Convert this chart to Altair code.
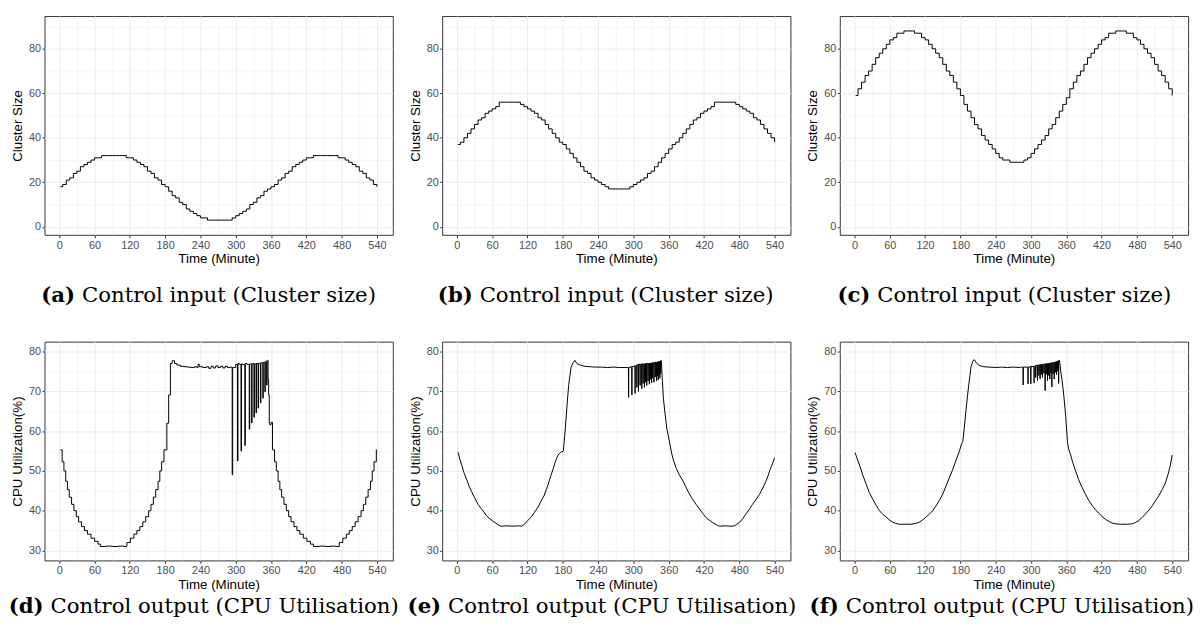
import altair as alt
import pandas as pd

# ---------------- data ----------------
minutes_top = [2] + list(range(6, 541, 6))

cluster_a = [18, 19, 21, 22, 24, 25, 27, 28, 29, 30,
             31, 31, 32, 32, 32, 32, 32, 32, 32, 31,
             31, 30, 29, 28, 27, 25, 24, 22, 21, 19,
             18, 16, 14, 13, 11, 10, 8, 7, 6, 5,
             4, 4, 3, 3, 3, 3, 3, 3, 3, 4,
             5, 6, 7, 8, 10, 11, 13, 14, 16, 17,
             18, 19, 21, 22, 24, 25, 27, 28, 29, 30,
             31, 31, 32, 32, 32, 32, 32, 32, 32, 31,
             31, 30, 29, 28, 27, 25, 24, 22, 21, 19,
             18]
cluster_b = [37, 38, 40, 42, 44, 46, 48, 49, 51, 52,
             53, 54, 56, 56, 56, 56, 56, 56, 55, 54,
             53, 52, 51, 49, 48, 46, 44, 42, 40, 38,
             37, 35, 33, 31, 29, 27, 25, 24, 22, 21,
             20, 19, 18, 17, 17, 17, 17, 17, 17, 18,
             19, 20, 21, 22, 24, 25, 27, 29, 31, 33,
             35, 37, 38, 40, 42, 44, 46, 48, 49, 51,
             52, 53, 54, 56, 56, 56, 56, 56, 56, 55,
             54, 53, 52, 51, 49, 48, 46, 44, 42, 40,
             38]
cluster_c = [59, 62, 65, 68, 70, 73, 76, 78, 80, 82,
             84, 85, 87, 87, 88, 88, 88, 87, 87, 85,
             84, 82, 80, 78, 76, 73, 70, 68, 65, 62,
             59, 55, 52, 49, 46, 44, 41, 39, 37, 35,
             33, 31, 30, 30, 29, 29, 29, 29, 30, 31,
             33, 35, 37, 39, 41, 44, 46, 49, 52, 55,
             58, 62, 65, 68, 70, 73, 76, 78, 80, 82,
             84, 85, 87, 87, 88, 88, 88, 87, 87, 85,
             84, 82, 80, 78, 76, 73, 70, 68, 65, 62,
             59]

# Panel (d)
d_t = [2, 5, 8, 11, 14, 17, 21, 25, 29, 33, 38, 43, 48, 54, 60, 66, 70, 80, 90, 100, 110,
       115, 121, 127, 132, 137, 142, 147, 152, 156, 160, 164, 168, 171, 174, 178,
       183, 186, 189, 192, 196, 200, 206, 212, 218, 224, 230, 234, 236, 238, 244, 250, 254, 258,
       262, 266, 270, 274, 278, 282, 286, 290,
       296, 300, 306, 312, 319, 325, 329, 336, 340, 344, 348, 351, 354,
       355, 356, 357, 358, 360, 362.5, 366, 369, 372, 375, 378, 382, 386, 390, 394, 399, 404,
       409, 415, 421, 427, 432, 442, 452, 462, 470,
       476, 482, 488, 493, 498, 503, 508, 513, 517, 521, 525, 529, 532, 535, 539, 540]
d_v = [55.3, 52.3, 50.0, 47.4, 45.3, 43.4, 41.6, 40.0, 38.5, 37.2, 36.0, 35.0, 34.1, 33.1, 32.3,
       31.6, 31.0, 31.1, 31.0, 31.1, 31.0,
       32.0, 33.1, 34.1, 35.0, 36.0, 37.2, 38.5, 40.0, 41.6, 43.4, 45.3, 47.4, 50.0, 52.3, 55.3,
       62.0, 69.1, 77.0, 77.7, 77.0, 76.6, 76.3, 76.2, 76.1, 76.0, 76.2, 76.0, 76.8, 76.2, 76.0,
       76.2, 75.8, 76.3, 75.9, 76.4, 76.0, 76.3, 75.9, 76.3, 76.0, 76.1,
       76.0, 76.8, 76.8, 76.7, 76.8, 76.9, 77.0, 77.0, 77.1, 77.2, 77.3, 77.5, 77.8,
       73.0, 69.1, 62.0, 61.6, 62.2, 55.3, 52.3, 50.0, 47.4, 45.3, 43.4, 41.6, 40.0, 38.5, 37.2,
       36.0, 35.0, 34.1, 33.1, 32.3, 31.6, 31.0, 31.1, 31.0, 31.1, 31.0,
       32.0, 33.1, 34.1, 35.0, 36.0, 37.2, 38.5, 40.0, 41.6, 43.4, 45.3, 47.4, 50.0, 52.3, 55.3, 55.3]
d_spike_t = [294, 303, 309, 315.5, 323, 327, 331, 334.5, 338, 342, 346, 349.5, 352.5]
d_spike_low = [49.0, 52.5, 55.0, 56.4, 60.5, 62.1, 63.5, 64.6, 65.8, 67.1, 68.3, 69.9, 71.6]
d_spike_top = [76.0, 77.0, 76.9, 77.0, 76.9, 77.0, 76.9, 77.1, 77.0, 77.2, 77.3, 77.4, 77.8]

# Panel (e)
e_t = [2, 5, 8.5, 12, 17, 21, 25, 30, 36, 41, 45, 50, 55, 60, 65, 70, 75, 85, 95, 105, 110,
       115, 121, 127, 132, 138, 143, 148, 152, 156, 160, 164, 168, 172, 176, 181,
       184, 187, 190, 194, 198, 200.5, 204, 210, 218, 226, 236, 246, 256, 266, 276, 286, 290,
       347.5, 349, 351, 354, 357, 359, 362, 365, 368, 373, 379, 385, 393, 401, 407, 413, 419,
       424, 430, 435, 441, 446, 456, 466, 472,
       476, 480, 486, 491, 497, 502, 508, 514, 520, 525, 529, 533, 537, 540]
e_v = [54.7, 53.0, 51.4, 49.6, 47.7, 46.1, 44.8, 43.3, 41.6, 40.6, 39.9, 38.8, 38.1, 37.5, 37.0,
       36.5, 36.1, 36.2, 36.1, 36.2, 36.1,
       36.6, 37.6, 38.5, 39.6, 40.9, 42.4, 43.7, 45.3, 47.0, 48.9, 50.7, 52.6, 54.0, 54.6, 55.0,
       60.0, 66.0, 71.5, 76.0, 77.3, 77.8, 77.0, 76.6, 76.3, 76.2, 76.1, 76.1, 76.0, 76.1, 76.0,
       76.0, 76.0,
       77.8, 73.5, 68.3, 64.2, 60.5, 59.2, 56.8, 54.5, 52.7, 50.6, 48.8, 47.3, 44.8, 42.8, 41.5,
       40.3, 39.1, 38.2, 37.5, 37.0, 36.5, 36.1, 36.2, 36.1, 36.2,
       36.6, 37.0, 38.0, 39.1, 40.3, 41.5, 42.7, 44.0, 45.7, 47.3, 48.8, 50.6, 52.0, 53.3]
e_spike_t = [291.9, 297.5, 303, 306, 308.7, 311.5, 314.3, 316.5, 318.8, 320.8,
             322.7, 325, 327.2, 329, 331, 333, 335, 337.3, 339.5, 341,
             342.3, 343.7, 345, 346.3]
e_spike_low = [68.5, 69.1, 69.5, 71.0, 70.0, 71.5, 70.7, 72.0, 71.0, 72.3,
               71.5, 72.6, 71.8, 73.0, 72.1, 73.3, 72.3, 73.6, 72.6, 74.0,
               72.9, 74.2, 73.3, 74.5]
e_spike_top = [76.0, 76.2, 76.4, 76.6, 76.8, 76.8, 76.9, 76.9, 76.9, 77.0,
               77.0, 77.0, 77.0, 77.1, 77.1, 77.2, 77.2, 77.3, 77.3, 77.4,
               77.4, 77.5, 77.6, 77.7]

# Panel (f)
f_t = [1, 4, 8.5, 14, 20, 25, 31, 37, 42.4, 48, 53.7, 59, 65, 70, 76, 86, 96, 104, 110, 116,
       121.5, 127, 133, 138, 144, 150, 155.5, 161, 166.8, 172, 178, 182, 184, 186.5, 189, 192,
       195, 198, 201, 203.5, 207, 212, 220, 229, 240, 250, 260, 270, 280, 284,
       348.5, 350.5, 353, 356, 359, 362, 364, 367.4, 371, 376, 381, 387, 393, 398.5, 404, 410,
       416, 421, 427, 432.5, 438, 444, 452, 462, 472, 477, 483, 489, 494.6, 500, 506, 511, 517,
       523, 528.5, 533, 537, 540]
f_v = [54.6, 53.3, 51.5, 49.0, 46.6, 44.6, 42.9, 41.3, 40.0, 39.1, 38.4, 37.7, 37.1, 36.8, 36.6,
       36.6, 36.6, 36.8, 37.1, 37.7, 38.4, 39.1, 40.0, 41.1, 42.5, 44.2, 46.2, 48.2, 50.3, 52.5,
       54.8, 56.8, 57.3, 60.6, 64.5, 68.8, 72.6, 76.1, 77.6, 78.0, 77.2, 76.5, 76.2, 76.1, 76.0,
       76.1, 76.0, 76.1, 76.0, 76.1,
       77.8, 75.1, 72.6, 68.6, 63.7, 57.2, 55.5, 54.0, 52.1, 49.9, 47.8, 45.8, 44.0, 42.5, 41.3,
       40.2, 39.3, 38.5, 37.8, 37.3, 36.9, 36.7, 36.6, 36.6, 36.7, 37.0, 37.5, 38.3, 39.2, 40.1,
       41.2, 42.4, 43.7, 45.3, 47.0, 49.2, 51.5, 54.0]
f_spike_t = [286.7, 295, 299.7, 305.3, 308, 311, 313.5, 315.5, 317.5, 319.5,
             322, 324, 326, 328, 330, 332, 334, 335.5, 337.5, 339.5,
             341.5, 343.4, 345.5, 347]
f_spike_low = [71.6, 71.9, 71.9, 72.1, 73.5, 72.7, 74.0, 73.1, 74.2, 73.5,
               74.5, 70.2, 74.3, 72.7, 74.0, 73.1, 74.6, 71.1, 74.4, 73.1,
               74.8, 74.2, 75.0, 72.0]
f_spike_top = [76.1, 76.1, 76.2, 76.3, 76.5, 76.6, 76.6, 76.7, 76.7, 76.8,
               76.8, 76.9, 76.9, 77.0, 77.0, 77.1, 77.1, 77.2, 77.2, 77.3,
               77.4, 77.5, 77.6, 77.7]

caption_tags = ["(a)", "(b)", "(c)", "(d)", "(e)", "(f)"]
caption_texts = ["Control input (Cluster size)"] * 3 + ["Control output (CPU Utilisation)"] * 3
y_titles = ["Cluster Size", "CPU Utilization(%)"]
x_title = "Time (Minute)"
x_ticks = list(range(0, 541, 30))
y_ticks_top = list(range(0, 91, 10))
y_ticks_bottom = list(range(30, 81, 5))


# ---------------- helpers ----------------
def step_spikes(t, v, st, lo, top):
    rows = list(zip(t, v))
    for s, l, h in zip(st, lo, top):
        rows += [(s, l), (s + 0.8, h)]
    return pd.DataFrame(rows, columns=["t", "v"]).sort_values("t")


def linear_spikes(t, v, st, lo, top):
    rows = list(zip(t, v))
    for s, l, h in zip(st, lo, top):
        rows += [(s - 0.3, h), (s, l), (s + 0.3, h)]
    return pd.DataFrame(rows, columns=["t", "v"]).sort_values("t")


W, H = 353, 221.7
FONT = "Liberation Sans"


def cond(test, a, b):
    return {"condition": {"test": test, "value": a}, "value": b}


def panel(df, ydom, yticks, ymod, ytitle, interp, idx, top_row):
    xtest = "datum.value % 60 === 0"
    x_axis = alt.Axis(
        values=x_ticks, title=x_title,
        labelExpr=f"{xtest} ? datum.label : ''",
        labelFontSize=cond(xtest, 11, 0),
        gridWidth=cond(xtest, 1.0, 0.5),
        tickOpacity=cond(xtest, 1, 0),
        gridColor="#ebebeb", domain=False, tickColor="#333333", tickSize=3,
        labelColor="#4d4d4d", labelFont=FONT, labelPadding=1.5,
        labelFlush=False, labelOverlap=False,
        titleFont=FONT, titleFontSize=13.5, titleFontWeight="normal", titleColor="#000000",
        titlePadding=2,
    )
    ytest = f"datum.value % {ymod} === 0"
    y_axis = alt.Axis(
        values=yticks, title=ytitle,
        labelExpr=f"{ytest} ? datum.label : ''",
        labelFontSize=cond(ytest, 11, 0),
        gridWidth=cond(ytest, 1.0, 0.5),
        tickOpacity=cond(ytest, 1, 0),
        gridColor="#ebebeb", domain=False, tickColor="#333333", tickSize=2.5,
        labelColor="#4d4d4d", labelFont=FONT, labelPadding=1.5,
        labelFlush=False, labelOverlap=False,
        titleFont=FONT, titleFontSize=13.5, titleFontWeight="normal", titleColor="#000000",
        titlePadding=4,
    )
    line = alt.Chart(df).mark_line(color="black", strokeWidth=1, interpolate=interp).encode(
        x=alt.X("t:Q", scale=alt.Scale(domain=[-25, 567], nice=False, zero=False), axis=x_axis),
        y=alt.Y("v:Q", scale=alt.Scale(domain=ydom, nice=False, zero=False), axis=y_axis),
    )
    cap = pd.DataFrame({"tag": [caption_tags[idx]], "txt": [caption_texts[idx]]})
    if top_row:
        cy, bx, tx = 284, 31, 38
    else:
        cy, bx, tx = 269, -1, 6
    bold = alt.Chart(cap).mark_text(
        font="DejaVu Serif", fontSize=21.5, fontWeight="bold", align="right",
        baseline="middle", color="black",
    ).encode(x=alt.value(bx), y=alt.value(cy), text="tag:N")
    normal = alt.Chart(cap).mark_text(
        font="DejaVu Serif", fontSize=21.5, fontWeight="normal", align="left",
        baseline="middle", color="black",
    ).encode(x=alt.value(tx), y=alt.value(cy), text="txt:N")
    return alt.layer(line, bold, normal).properties(width=W, height=H)


top_dom = [-3.6, 94.7]
bot_dom = [27.5, 82.5]

pa = panel(pd.DataFrame({"t": minutes_top, "v": cluster_a}), top_dom, y_ticks_top, 20, y_titles[0], "step-after", 0, True)
pb = panel(pd.DataFrame({"t": minutes_top, "v": cluster_b}), top_dom, y_ticks_top, 20, y_titles[0], "step-after", 1, True)
pc = panel(pd.DataFrame({"t": minutes_top, "v": cluster_c}), top_dom, y_ticks_top, 20, y_titles[0], "step-after", 2, True)
pd_ = panel(step_spikes(d_t, d_v, d_spike_t, d_spike_low, d_spike_top), bot_dom, y_ticks_bottom, 10, y_titles[1], "step-after", 3, False)
pe = panel(linear_spikes(e_t, e_v, e_spike_t, e_spike_low, e_spike_top), bot_dom, y_ticks_bottom, 10, y_titles[1], "linear", 4, False)
pf = panel(linear_spikes(f_t, f_v, f_spike_t, f_spike_low, f_spike_top), bot_dom, y_ticks_bottom, 10, y_titles[1], "linear", 5, False)

chart = alt.concat(
    pa, pb, pc, pd_, pe, pf,
    columns=3,
    spacing={"row": 108, "column": 50},
    bounds="flush",
).properties(
    padding={"left": 0, "top": 3, "right": 0, "bottom": 4},
    background="white",
).configure_view(stroke="#333333", strokeWidth=1)

chart.save("out.html", embed_options={"renderer": "svg", "actions": False})
